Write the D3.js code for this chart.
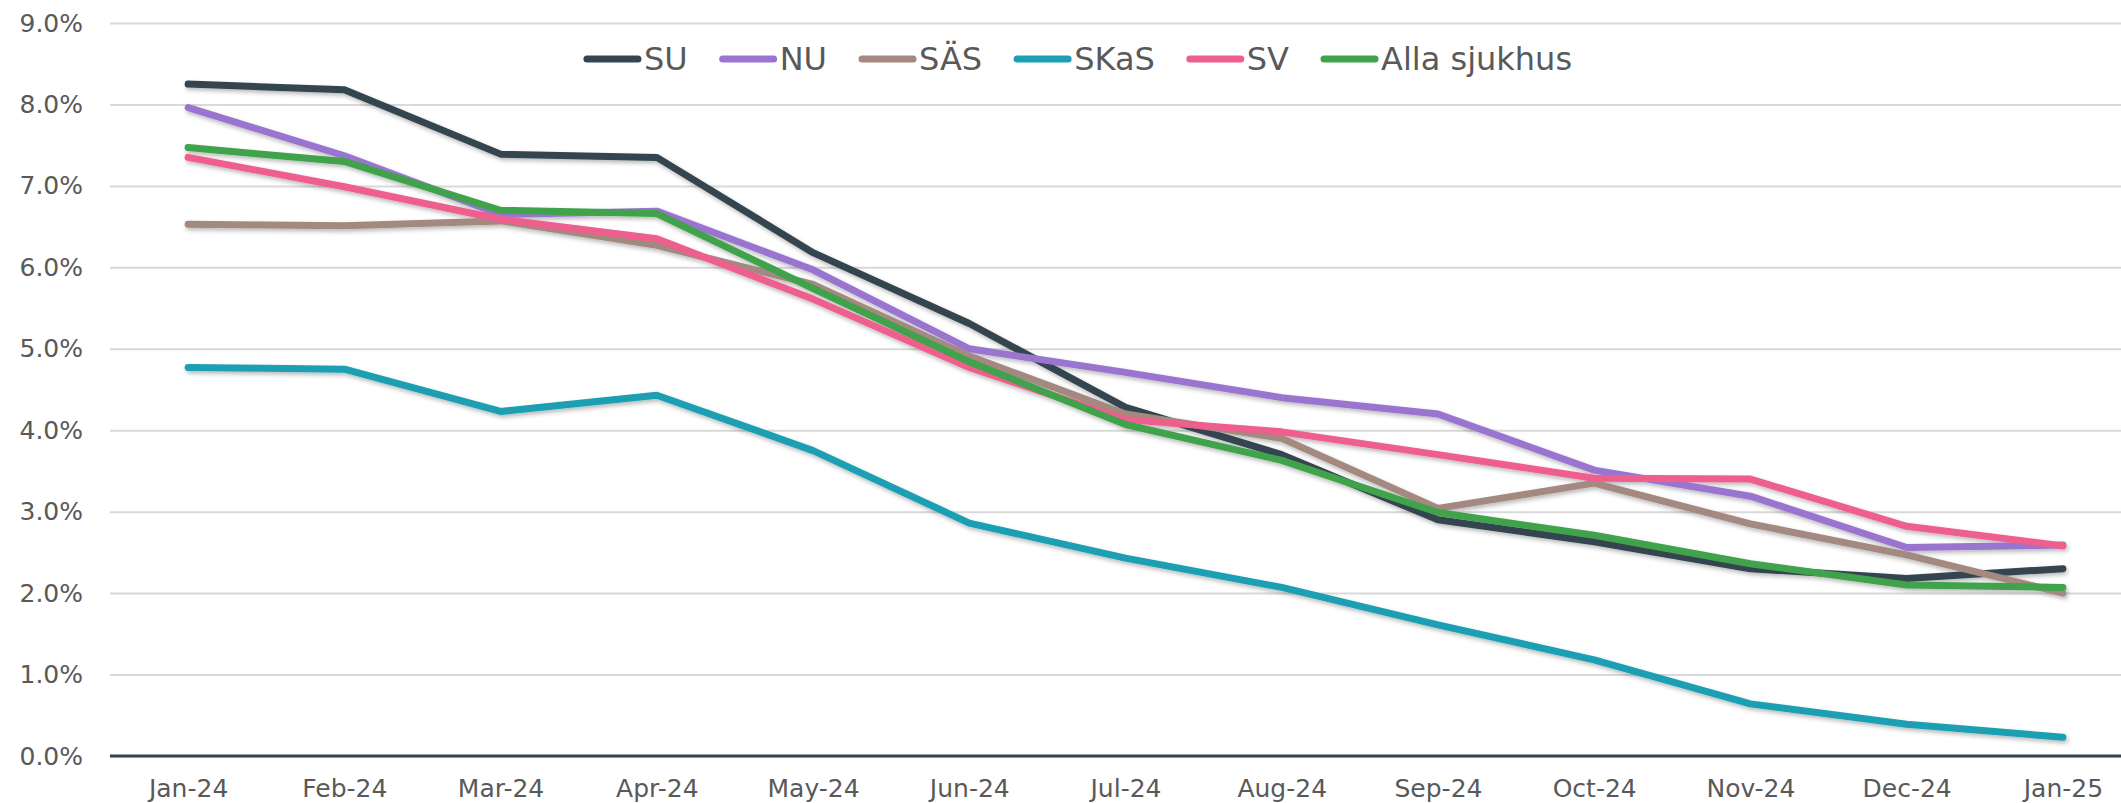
<!DOCTYPE html>
<html>
<head>
<meta charset="utf-8">
<script src="https://cdn.jsdelivr.net/npm/d3@7"></script>
<style>
  body { margin: 0; background: #fff; }
  text { font-family: 'DejaVu Sans', Verdana, sans-serif; fill: #595959; }
</style>
</head>
<body>
<div id="chart"></div>
<script>
const width = 2121
const height = 803
const margin = { left: 110, right: 0, top: 23, bottom: 47 }

const months = ['Jan-24', 'Feb-24', 'Mar-24', 'Apr-24', 'May-24', 'Jun-24', 'Jul-24',
  'Aug-24', 'Sep-24', 'Oct-24', 'Nov-24', 'Dec-24', 'Jan-25']
const names = ['SU', 'NU', 'SÄS', 'SKaS', 'SV', 'Alla sjukhus']
const colors = ['#34454f', '#9a74d0', '#a3897f', '#1a9fb3', '#ee5e8e', '#3fa34b']

// values in percent
const su = [8.25, 8.18, 7.39, 7.35, 6.18, 5.31, 4.28, 3.70, 2.90, 2.63, 2.30, 2.18, 2.30]
const nu = [7.96, 7.37, 6.65, 6.69, 5.97, 5.00, 4.71, 4.40, 4.20, 3.51, 3.19, 2.56, 2.59]
const sas = [6.53, 6.51, 6.57, 6.27, 5.79, 4.91, 4.20, 3.90, 3.04, 3.35, 2.85, 2.47, 2.00]
const skas = [4.77, 4.75, 4.23, 4.43, 3.75, 2.86, 2.43, 2.07, 1.61, 1.18, 0.64, 0.39, 0.23]
const sv = [7.35, 6.99, 6.59, 6.35, 5.61, 4.77, 4.13, 3.98, 3.70, 3.41, 3.40, 2.82, 2.58]
const alla = [7.47, 7.30, 6.70, 6.66, 5.74, 4.84, 4.07, 3.63, 2.99, 2.71, 2.36, 2.10, 2.07]
const series = [su, nu, sas, skas, sv, alla]

const yTicks = [0, 1, 2, 3, 4, 5, 6, 7, 8, 9]
const formatTick = d => d.toFixed(1) + '%'

// category centres; last band runs a bit past the right edge like the original
let x_scale = d3.scalePoint()
  .domain(months)
  .range([margin.left, 2141])
  .padding(0.5)
let y_scale = d3.scaleLinear()
  .domain([0, 9])
  .range([height - margin.bottom, margin.top])

const svg = d3.select('#chart')
  .append('svg')
    .attr('width', width)
    .attr('height', height)

const defs = svg.append('defs')
defs.append('filter')
    .attr('id', 'shadow')
    .attr('x', '-5%').attr('y', '-5%')
    .attr('width', '110%').attr('height', '120%')
  .append('feDropShadow')
    .attr('dx', 1.5)
    .attr('dy', 2.5)
    .attr('stdDeviation', 2)
    .attr('flood-color', '#000')
    .attr('flood-opacity', 0.28)

// gridlines + y labels
svg.append('g')
  .attr('transform', `translate(${margin.left},0)`)
  .call(d3.axisLeft(y_scale).tickValues(yTicks).tickFormat(formatTick)
    .tickSize(-(width - margin.left)).tickPadding(27))
  .call(g => g.select('.domain').remove())
  .call(g => g.selectAll('.tick line')
    .attr('stroke', '#d9d9d9')
    .attr('stroke-width', 2))
  .call(g => g.selectAll('.tick text')
    .style('font-size', '25px')
    .attr('fill', '#595959'))

// x axis
svg.append('g')
  .attr('transform', `translate(0,${y_scale(0)})`)
  .call(d3.axisBottom(x_scale).tickSize(0).tickPadding(23))
  .call(g => g.select('.domain')
    .attr('d', `M${margin.left},0H${width}`)
    .attr('stroke', '#34454f')
    .attr('stroke-width', 3))
  .call(g => g.selectAll('.tick text')
    .style('font-size', '25px')
    .attr('fill', '#595959'))

const line = d3.line()
  .x((d, i) => x_scale(months[i]))
  .y(d => y_scale(d))

svg.append('g')
  .attr('filter', 'url(#shadow)')
  .selectAll('path')
  .data(series)
  .enter().append('path')
    .attr('d', line)
    .attr('fill', 'none')
    .attr('stroke', (d, i) => colors[i])
    .attr('stroke-width', 7)
    .attr('stroke-linejoin', 'round')
    .attr('stroke-linecap', 'round')

// legend
const legend = svg.append('g')
const items = legend.selectAll('g')
  .data(names)
  .enter().append('g')
items.append('line')
  .attr('x1', 3).attr('x2', 54)
  .attr('y1', 0).attr('y2', 0)
  .attr('stroke', (d, i) => colors[i])
  .attr('stroke-width', 7)
  .attr('stroke-linecap', 'round')
items.append('text')
  .attr('x', 60)
  .attr('y', 11)
  .style('font-size', '32px')
  .text(d => d)

let pos = 0
items.each(function () {
  const w = 60 + d3.select(this).select('text').node().getComputedTextLength()
  d3.select(this).attr('transform', `translate(${pos},0)`)
  pos += w + 32
})
const total = pos - 32
legend.attr('transform', `translate(${1078 - total / 2},59)`)
</script>
</body>
</html>
